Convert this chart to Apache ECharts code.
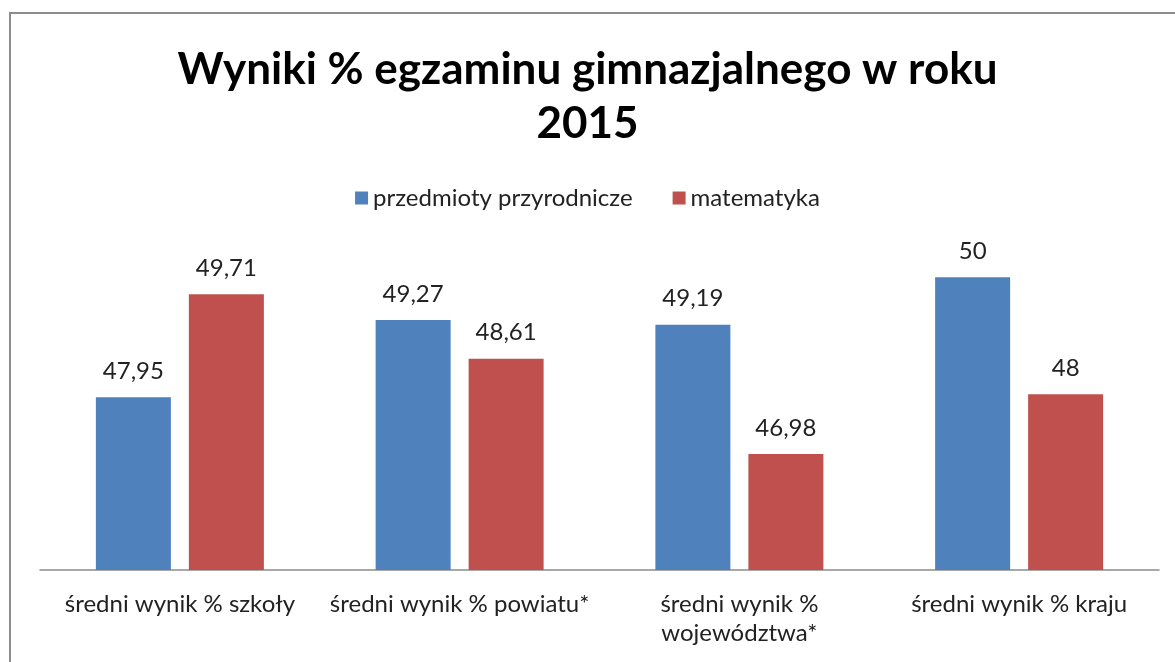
<!DOCTYPE html>
<html>
<head>
<meta charset="utf-8">
<script src="https://cdn.jsdelivr.net/npm/echarts@6/dist/echarts.min.js"></script>
<style>
  html, body { margin: 0; padding: 0; background: #fff; }
  #chart { width: 1175px; height: 662px; }
</style>
</head>
<body>
<div id="chart"></div>
<script>
var categories = ['średni wynik % szkoły', 'średni wynik % powiatu*', 'średni wynik %\nwojewództwa*', 'średni wynik % kraju'];
var przyrodnicze = [47.95, 49.27, 49.19, 50];
var matematyka = [49.71, 48.61, 46.98, 48];
var seriesNames = ['przedmioty przyrodnicze', 'matematyka'];

var chart = echarts.init(document.getElementById('chart'));

function plLabel(p) {
  return String(p.value).replace('.', ',');
}

chart.setOption({
  animation: false,
  textStyle: { fontFamily: 'Lato' },
  title: {
    text: 'Wyniki % egzaminu gimnazjalnego w roku\n2015',
    left: 'center',
    top: 38,
    textStyle: { fontFamily: 'Lato', fontWeight: 'bold', fontSize: 44, lineHeight: 54, color: '#000' }
  },
  legend: {
    data: seriesNames,
    top: 181,
    left: 'center',
    itemWidth: 13,
    itemHeight: 13,
    itemGap: 40,
    icon: 'rect',
    textStyle: { fontSize: 24, color: '#222' }
  },
  graphic: [{
    type: 'rect',
    shape: { x: 10, y: 13, width: 1300, height: 800 },
    style: { fill: 'none', stroke: '#8c8c8c', lineWidth: 2 },
    z: -1
  }],
  grid: { left: 40, right: 16, top: 248, bottom: 92 },
  xAxis: {
    type: 'category',
    data: categories,
    axisLine: { lineStyle: { color: '#8c8c8c', width: 1.5 } },
    axisTick: { show: false },
    axisLabel: { margin: 20, fontSize: 24, lineHeight: 29, color: '#222', interval: 0 }
  },
  yAxis: {
    type: 'value',
    min: 45,
    max: 50.5,
    show: false
  },
  series: [
    {
      name: seriesNames[0],
      type: 'bar',
      data: przyrodnicze,
      barWidth: 75,
      barGap: '24%',
      itemStyle: { color: '#4f81bd' },
      label: { show: true, position: 'top', distance: 14, fontSize: 24, color: '#222', formatter: plLabel }
    },
    {
      name: seriesNames[1],
      type: 'bar',
      data: matematyka,
      barWidth: 75,
      itemStyle: { color: '#c0504d' },
      label: { show: true, position: 'top', distance: 14, fontSize: 24, color: '#222', formatter: plLabel }
    }
  ]
});
</script>
</body>
</html>
